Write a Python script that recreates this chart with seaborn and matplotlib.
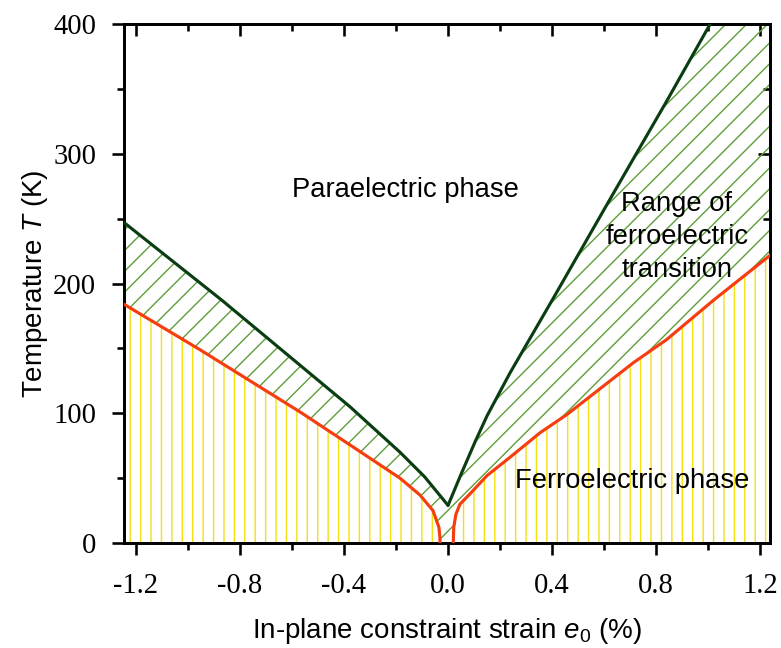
import numpy as np
import matplotlib
matplotlib.use("Agg")
import matplotlib.pyplot as plt
import seaborn as sns
from matplotlib.ticker import MultipleLocator, FormatStrFormatter

# Upper boundary of the ferroelectric transition range (dark green curve)
upper_left_e = [-1.246, -0.869, -0.569, -0.377, -0.185, -0.09, 0.0]
upper_left_T = [247, 187, 137, 105, 70, 51, 29]
upper_right_e = [0.0, 0.05, 0.104, 0.15, 0.238, 0.4, 0.62, 0.842, 1.008, 1.24]
upper_right_T = [29, 53, 78, 98, 131, 187, 264, 341, 400, 482]

# Boundary of the ferroelectric phase (red curve)
lower_left_e = [-1.246, -0.954, -0.569, -0.365, -0.185, -0.108, -0.058, -0.035, -0.031, -0.031]
lower_left_T = [184, 149, 101, 74, 50, 37, 25, 12, 4, 0]
lower_right_e = [0.02, 0.022, 0.03, 0.046, 0.085, 0.15, 0.238, 0.354, 0.457, 0.585, 0.713, 0.842, 1.02, 1.24]
lower_right_T = [0, 12, 22, 30, 38, 52, 66, 85, 99, 119, 139, 157, 187, 222]

x_ticks = [-1.2, -0.8, -0.4, 0.0, 0.4, 0.8, 1.2]
y_ticks = [0, 100, 200, 300, 400]

DARK_GREEN = "#0b3d12"
RED = "#f53d10"
HATCH_GREEN = "#5e9e3a"
HATCH_YELLOW = "#f4e010"

sns.set_theme(style="ticks")
plt.rcParams["font.family"] = ["Liberation Sans", "DejaVu Sans"]
plt.rcParams["mathtext.fontset"] = "custom"
plt.rcParams["mathtext.rm"] = "Liberation Sans"
plt.rcParams["mathtext.it"] = "Liberation Sans:italic"
plt.rcParams["axes.unicode_minus"] = False
plt.rcParams["hatch.linewidth"] = 0.8
for key in ["text.color", "axes.labelcolor", "xtick.color", "ytick.color",
            "xtick.labelcolor", "ytick.labelcolor", "axes.edgecolor"]:
    plt.rcParams[key] = "black"

DPI = 125
fig = plt.figure(figsize=(781 / DPI, 648 / DPI), dpi=DPI)
ax = fig.add_axes([124 / 781, 1 - 543 / 648, (770 - 124) / 781, (543 - 24) / 648])

upper_e = upper_left_e + upper_right_e[1:]
upper_T = upper_left_T + upper_right_T[1:]

# transition range: diagonal green hatch below the upper boundary
ax.fill_between(upper_e, 0, upper_T, facecolor="none", edgecolor=HATCH_GREEN,
                hatch="//", linewidth=0, zorder=1)
# ferroelectric phase: vertical yellow hatch below the red boundary
for e_vals, t_vals in [(lower_left_e, lower_left_T), (lower_right_e, lower_right_T)]:
    ax.fill_between(e_vals, 0, t_vals, facecolor="white", edgecolor=HATCH_YELLOW,
                    hatch="||", linewidth=0, zorder=2)

for e_vals, t_vals in [(upper_left_e, upper_left_T), (upper_right_e, upper_right_T)]:
    sns.lineplot(x=e_vals, y=t_vals, sort=False, estimator=None, color=DARK_GREEN,
                 linewidth=1.8, ax=ax, zorder=4)
for e_vals, t_vals in [(lower_left_e, lower_left_T), (lower_right_e, lower_right_T)]:
    sns.lineplot(x=e_vals, y=t_vals, sort=False, estimator=None, color=RED,
                 linewidth=1.8, ax=ax, zorder=4)

ax.set_xlim(-1.246, 1.238)
ax.set_ylim(0, 400)

ax.xaxis.set_minor_locator(MultipleLocator(0.2))
ax.yaxis.set_minor_locator(MultipleLocator(50))
ax.set_xticks(x_ticks)
ax.set_yticks(y_ticks)
ax.xaxis.set_major_formatter(FormatStrFormatter("%.1f"))
ax.yaxis.set_major_formatter(FormatStrFormatter("%d"))
for lbl in ax.get_xticklabels() + ax.get_yticklabels():
    lbl.set_fontfamily("Liberation Serif")
    lbl.set_fontsize(16.5)
    lbl.set_color("black")
ax.tick_params(which="both", direction="out", color="black", width=1.5,
               bottom=True, left=True, top=False, right=False)
ax.tick_params(which="major", length=7)
ax.tick_params(which="minor", length=4)
ax.tick_params(axis="x", which="major", pad=10)
ax.tick_params(axis="y", which="major", pad=9)

for side in ax.spines.values():
    side.set_linewidth(1.7)
    side.set_color("black")

# inward ticks on the top and right edges
top = ax.secondary_xaxis("top")
top.xaxis.set_minor_locator(MultipleLocator(0.2))
top.set_xticks(x_ticks)
top.tick_params(which="both", direction="in", width=1.5, labeltop=False, color="black")
top.tick_params(which="major", length=7)
top.tick_params(which="minor", length=4)
top.spines["top"].set_linewidth(1.7)

right = ax.secondary_yaxis("right")
right.yaxis.set_minor_locator(MultipleLocator(50))
right.set_yticks(y_ticks)
right.tick_params(which="both", direction="in", width=1.5, labelright=False, color="black")
right.tick_params(which="major", length=7)
right.tick_params(which="minor", length=4)
right.spines["right"].set_linewidth(1.7)

ax.set_xlabel("In-plane constraint strain $e_{\\mathrm{0}}$ (%)", fontsize=16, labelpad=10)
ax.set_ylabel("Temperature $T$ (K)", fontsize=16, labelpad=2)

label_kw = dict(ha="center", va="center", fontsize=15.8, color="black", zorder=5)
ax.text(-0.165, 272, "Paraelectric phase", **label_kw)
ax.text(0.88, 236, "Range of\nferroelectric\ntransition", linespacing=1.35, **label_kw)
ax.text(0.71, 48, "Ferroelectric phase", **label_kw)

fig.savefig("out.png", dpi=DPI)
